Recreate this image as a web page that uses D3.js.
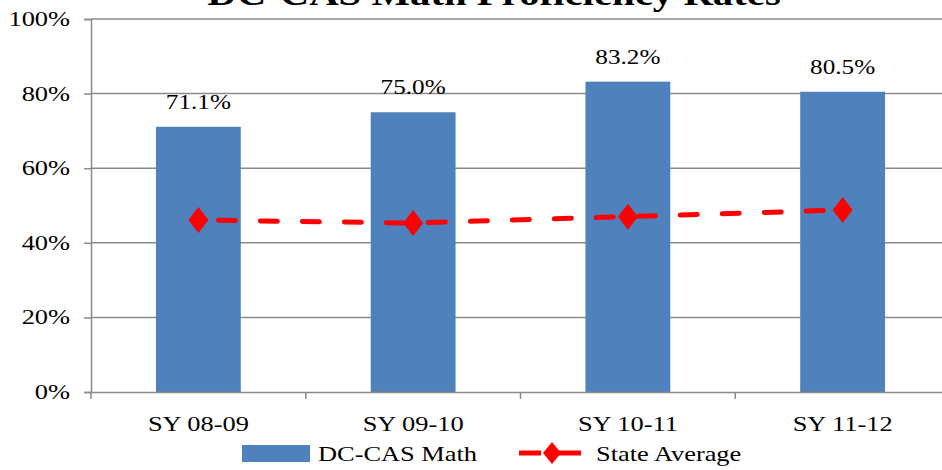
<!DOCTYPE html>
<html>
<head>
<meta charset="utf-8">
<script src="https://cdn.jsdelivr.net/npm/d3@7"></script>
<style>
  html, body { margin: 0; padding: 0; background: #fff; }
  svg { display: block; }
</style>
</head>
<body>
<svg id="chart" width="942" height="470"></svg>
<script>
// School years shown on the x axis
const categories = ["SY 08-09", "SY 09-10", "SY 10-11", "SY 11-12"];
// DC-CAS math proficiency (percent)
const mathRates = [71.1, 75.0, 83.2, 80.5];
// State average proficiency (percent)
const stateAverage = [46.1, 45.3, 47.0, 48.8];
// Y axis ticks
const yTicks = [0, 20, 40, 60, 80, 100];

const title = "DC-CAS Math Proficiency Rates";
const seriesNames = ["DC-CAS Math", "State Average"];

const W = 942, H = 470;
const margin = { left: 91, top: 19, right: -8, bottom: 78 };
const stretch = 1.2; // text is set slightly wide
const FONT = "'Liberation Serif', 'Times New Roman', 'DejaVu Serif', serif";

const svg = d3.select("#chart");

const x = d3.scaleBand()
  .domain(categories)
  .range([margin.left, W - margin.right])
  .paddingInner(0.605)
  .paddingOuter(0.3025);

const xOuter = d3.scaleBand()
  .domain(categories)
  .range([margin.left, W - margin.right]);

const y = d3.scaleLinear()
  .domain([0, 100])
  .range([H - margin.bottom, margin.top]);

function wideText(sel, px, py, str, anchor, size, weight) {
  const g = sel.append("g").attr("transform", `translate(${px},${py})`);
  g.append("text")
    .attr("transform", `scale(${stretch},1)`)
    .attr("text-anchor", anchor)
    .attr("font-family", FONT)
    .attr("font-size", size)
    .attr("font-weight", weight || "normal")
    .attr("fill", "#000")
    .text(str);
  return g;
}

// Horizontal gridlines
svg.append("g")
  .selectAll("line")
  .data(yTicks.filter(d => d > 0))
  .join("line")
  .attr("x1", margin.left)
  .attr("x2", W - margin.right)
  .attr("y1", d => y(d))
  .attr("y2", d => y(d))
  .attr("stroke", "#8a8a8a")
  .attr("stroke-width", 1.5);

// Bars
svg.append("g")
  .selectAll("rect")
  .data(mathRates)
  .join("rect")
  .attr("x", (d, i) => x(categories[i]))
  .attr("width", x.bandwidth())
  .attr("y", d => y(d))
  .attr("height", d => y(0) - y(d))
  .attr("fill", "#4f81bd");

// Axes
const yAxis = d3.axisLeft(y).tickValues(yTicks).tickSize(7).tickFormat("");
const gy = svg.append("g").attr("transform", `translate(${margin.left},0)`).call(yAxis);
gy.select(".domain").attr("stroke", "#8a8a8a").attr("stroke-width", 1.5);
gy.selectAll(".tick line").attr("stroke", "#8a8a8a").attr("stroke-width", 1.5);

const xAxis = d3.axisBottom(xOuter).tickSize(0).tickFormat("");
const gx = svg.append("g").attr("transform", `translate(0,${y(0)})`).call(xAxis);
gx.select(".domain").attr("stroke", "#8a8a8a").attr("stroke-width", 1.5);

// Category boundary ticks under the x axis
svg.append("g")
  .selectAll("line")
  .data(categories)
  .join("line")
  .attr("x1", d => xOuter(d))
  .attr("x2", d => xOuter(d))
  .attr("y1", y(0))
  .attr("y2", y(0) + 7)
  .attr("stroke", "#8a8a8a")
  .attr("stroke-width", 1.5);

// Y tick labels
yTicks.forEach(t => wideText(svg, 70, y(t) + 7, t + "%", "end", 22));

// X labels
categories.forEach(c => wideText(svg, xOuter(c) + xOuter.bandwidth() / 2, 431, c, "middle", 22));

// Value labels above bars
mathRates.forEach((v, i) =>
  wideText(svg, x(categories[i]) + x.bandwidth() / 2, y(v) - 18, v.toFixed(1) + "%", "middle", 21));

// State average line
const cx = c => xOuter(c) + xOuter.bandwidth() / 2;
const line = d3.line()
  .x((d, i) => cx(categories[i]))
  .y(d => y(d));

svg.append("path")
  .datum(stateAverage)
  .attr("d", line)
  .attr("fill", "none")
  .attr("stroke", "#ff0000")
  .attr("stroke-width", 5)
  .attr("stroke-linecap", "round")
  .attr("stroke-dasharray", "17,25")
  .attr("stroke-dashoffset", -20);

const diamond = (hw, hh) => `M0,${-hh}L${hw},0L0,${hh}L${-hw},0Z`;
svg.append("g")
  .selectAll("path")
  .data(stateAverage)
  .join("path")
  .attr("transform", (d, i) => `translate(${cx(categories[i])},${y(d)})`)
  .attr("d", diamond(10, 13))
  .attr("fill", "#ff0000");

// Title (runs off the top edge)
wideText(svg, 494, 5, title, "middle", 34, "bold");

// Legend
const lg = svg.append("g");
lg.append("rect")
  .attr("x", 242).attr("y", 445)
  .attr("width", 68).attr("height", 17)
  .attr("fill", "#4f81bd");
wideText(lg, 318, 461, seriesNames[0], "start", 22);

lg.append("line")
  .attr("x1", 519).attr("x2", 581)
  .attr("y1", 453).attr("y2", 453)
  .attr("stroke", "#ff0000")
  .attr("stroke-width", 5)
  .attr("stroke-dasharray", "22,10,30");
lg.append("path")
  .attr("transform", "translate(552,453)")
  .attr("d", diamond(9, 11))
  .attr("fill", "#ff0000");
wideText(lg, 596, 461, seriesNames[1], "start", 22);
</script>
</body>
</html>
